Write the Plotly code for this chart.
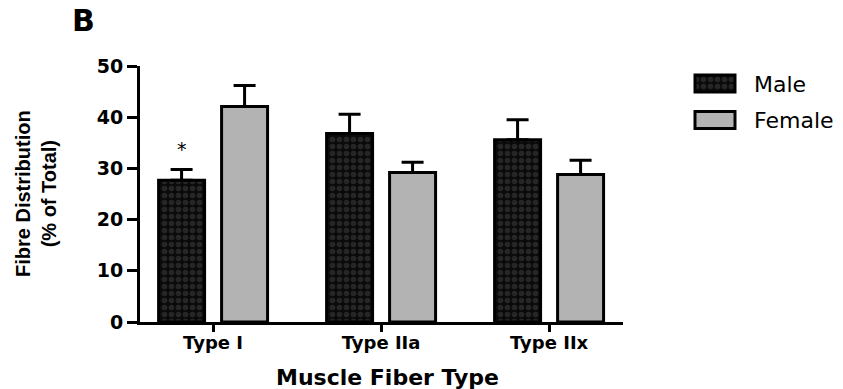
import plotly.graph_objects as go

# Fibre-type distribution by sex (mean + SEM, % of total fibres)
fiber_types = ["Type I", "Type IIa", "Type IIx"]
male_mean = [27.7, 36.8, 35.6]
male_sem = [2.1, 3.8, 3.9]
female_mean = [42.1, 29.2, 28.8]
female_sem = [4.1, 2.0, 2.8]
groups = ["Male", "Female"]
y_ticks = [0, 10, 20, 30, 40, 50]

W, H = 843, 389
L, R, T, B = 140, 0, 66, 67
PLOT_W = W - L - R
PLOT_H = H - T - B
AXIS_W = 483  # width of the bar-chart axis in px


def px_x(px):
    return (px - L) / PLOT_W


def px_y(py):
    return (H - B - py) / PLOT_H


male_fill = "#0a0a0a"
check_color = "#262626"
female_color = "#b3b3b3"
male_pattern = dict(shape=".", fgcolor=check_color, bgcolor=male_fill,
                    size=7, solidity=0.5, fillmode="replace")
outline = dict(color="black", width=3)
err_style = dict(type="data", symmetric=False, color="black",
                 thickness=3, width=11)

fig = go.Figure()
fig.add_trace(go.Bar(
    x=fiber_types, y=male_mean, name=groups[0],
    marker=dict(color=male_fill, pattern=male_pattern, line=outline),
    error_y=dict(array=male_sem, arrayminus=[0] * len(male_sem), **err_style),
    showlegend=False,
))
fig.add_trace(go.Bar(
    x=fiber_types, y=female_mean, name=groups[1],
    marker=dict(color=female_color, line=outline),
    error_y=dict(array=female_sem, arrayminus=[0] * len(female_sem), **err_style),
    showlegend=False,
))

# Key swatches drawn as bars on their own hidden axes
SWATCH_W = 0.466
swatch_markers = {
    "Male": dict(color=male_fill, pattern=male_pattern, line=outline),
    "Female": dict(color=female_color, line=outline),
}
for g in groups:
    fig.add_trace(go.Bar(
        y=[g], x=[1], orientation="h", width=SWATCH_W, offset=-SWATCH_W / 2,
        xaxis="x2", yaxis="y2", showlegend=False, hoverinfo="skip",
        marker=swatch_markers[g],
    ))

bold_font = dict(family="DejaVu Sans", color="black", weight="bold")

fig.update_layout(
    width=W, height=H,
    margin=dict(l=L, r=R, t=T, b=B),
    paper_bgcolor="white", plot_bgcolor="white",
    barmode="group", bargap=0.25, bargroupgap=0.27,
    showlegend=False,
    xaxis=dict(
        domain=[0, AXIS_W / PLOT_W],
        range=[-0.435, 2.44],
        showline=True, linewidth=3, linecolor="black",
        ticks="outside", ticklen=7, tickwidth=3, tickcolor="black",
        ticklabelstandoff=-5,
        tickfont=dict(size=18, **bold_font),
        showgrid=False, zeroline=False,
    ),
    yaxis=dict(
        range=[0, 50],
        tickvals=y_ticks,
        showline=True, linewidth=3, linecolor="black",
        ticks="outside", ticklen=10, tickwidth=3, tickcolor="black",
        tickfont=dict(size=19, **bold_font),
        showgrid=False, zeroline=False,
    ),
    xaxis2=dict(
        domain=[px_x(693), px_x(737)], range=[-0.05, 1.05],
        visible=False, anchor="y2", fixedrange=True,
    ),
    yaxis2=dict(
        domain=[px_y(134.6), px_y(68.9)], range=[-0.4, 1.4],
        categoryorder="array", categoryarray=["Female", "Male"],
        visible=False, anchor="x2", fixedrange=True,
    ),
)

annotations = [
    # panel letter
    dict(text="B", x=px_x(83), y=px_y(20), font=dict(size=30, **bold_font)),
    # axis titles
    dict(text="Muscle Fiber Type", x=px_x(387), y=px_y(377),
         font=dict(size=22, **bold_font)),
    dict(text="Fibre Distribution<br>(% of Total)", x=px_x(36), y=px_y(194),
         textangle=-90,
         font=dict(size=20, family="Liberation Sans", color="black", weight="bold")),
    # key labels
    dict(text="Male", x=px_x(752), y=px_y(84), xanchor="left",
         font=dict(size=22, family="DejaVu Sans", color="black")),
    dict(text="Female", x=px_x(752), y=px_y(120), xanchor="left",
         font=dict(size=22, family="DejaVu Sans", color="black")),
]
for a in annotations:
    a.setdefault("xanchor", "center")
    fig.add_annotation(xref="paper", yref="paper", yanchor="middle",
                       showarrow=False, **a)

# significance marker above the male Type I bar
fig.add_annotation(x=fiber_types[0], y=male_mean[0] + male_sem[0] + 4.0,
                   xref="x", yref="y", xshift=-31.5, showarrow=False,
                   text="*", yanchor="middle",
                   font=dict(size=19, family="DejaVu Sans", color="black"))

fig.write_html("out.html")
